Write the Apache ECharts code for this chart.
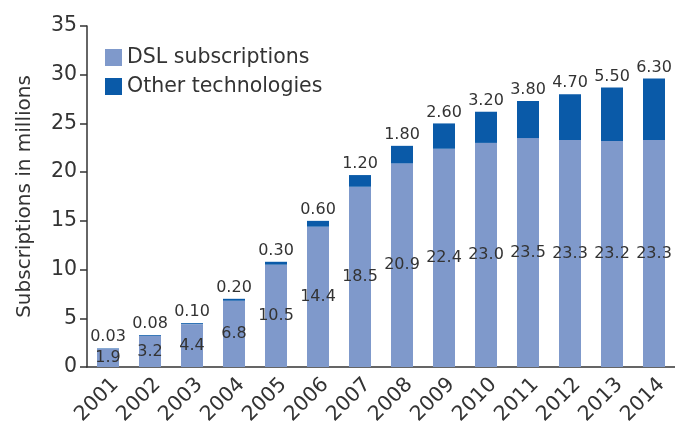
<!DOCTYPE html>
<html>
<head>
<meta charset="utf-8">
<script src="https://cdn.jsdelivr.net/npm/echarts@6/dist/echarts.min.js"></script>
<style>
  html, body { margin: 0; padding: 0; background: #fff; }
  #chart { width: 675px; height: 423px; }
</style>
</head>
<body>
<div id="chart"></div>
<script>
  var years = ['2001', '2002', '2003', '2004', '2005', '2006', '2007', '2008', '2009', '2010', '2011', '2012', '2013', '2014'];
  var dsl = [1.9, 3.2, 4.4, 6.8, 10.5, 14.4, 18.5, 20.9, 22.4, 23.0, 23.5, 23.3, 23.2, 23.3];
  var other = [0.03, 0.08, 0.10, 0.20, 0.30, 0.60, 1.20, 1.80, 2.60, 3.20, 3.80, 4.70, 5.50, 6.30];

  var font = 'DejaVu Sans';
  var ink = '#333';

  var chart = echarts.init(document.getElementById('chart'));
  chart.setOption({
    animation: false,
    textStyle: { fontFamily: font, color: ink },
    grid: { left: 87, right: 0, top: 26, bottom: 56, outerBoundsMode: 'none', containLabel: false },
    legend: {
      orient: 'vertical',
      left: 100,
      top: 42,
      itemWidth: 17,
      itemHeight: 17,
      itemGap: 8,
      icon: 'rect',
      textStyle: { fontSize: 20.5, color: ink, fontFamily: font },
      data: ['DSL subscriptions', 'Other technologies']
    },
    xAxis: {
      type: 'category',
      data: years,
      axisLine: { lineStyle: { color: ink, width: 1.5 } },
      axisTick: { length: 8, lineStyle: { color: ink, width: 1.5 } },
      axisLabel: { rotate: 45, fontSize: 20.5, color: ink, margin: 7, interval: 0, verticalAlign: 'top' }
    },
    yAxis: {
      type: 'value',
      min: 0,
      max: 35,
      interval: 5,
      name: 'Subscriptions in millions',
      nameLocation: 'middle',
      nameGap: 52,
      nameTextStyle: { fontSize: 20, color: ink },
      axisLine: { show: true, lineStyle: { color: ink, width: 1.5 } },
      axisTick: { show: true, length: 7, lineStyle: { color: ink, width: 1.5 } },
      axisLabel: { fontSize: 20.5, color: ink, margin: 10 },
      splitLine: { show: false }
    },
    series: [
      {
        name: 'DSL subscriptions',
        type: 'bar',
        stack: 'total',
        barWidth: 22,
        itemStyle: { color: '#7f99cb' },
        label: {
          show: true,
          position: 'inside',
          fontSize: 16,
          color: ink,
          formatter: function (p) { return p.value.toFixed(1); }
        },
        data: dsl
      },
      {
        name: 'Other technologies',
        type: 'bar',
        stack: 'total',
        barWidth: 22,
        itemStyle: { color: '#0a5aa8' },
        label: {
          show: true,
          position: 'top',
          distance: 3,
          fontSize: 16,
          color: ink,
          formatter: function (p) { return p.value.toFixed(2); }
        },
        data: other
      }
    ]
  });
</script>
</body>
</html>
